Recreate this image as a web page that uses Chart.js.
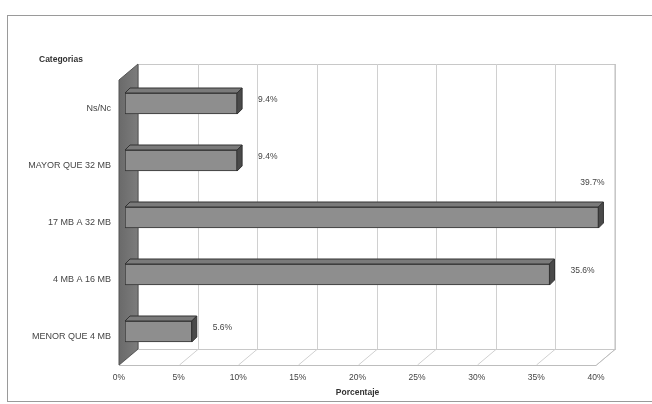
<!DOCTYPE html>
<html>
<head>
<meta charset="utf-8">
<script src="https://cdn.jsdelivr.net/npm/chart.js@4.4.1/dist/chart.umd.min.js"></script>
<style>
  html, body { margin: 0; padding: 0; background: #fff; }
  #wrap { width: 652px; height: 404px; }
</style>
</head>
<body>
<div id="wrap"><canvas id="grafico" width="652" height="404"></canvas></div>
<script>
// datos del grafico
var categorias = ['Ns/Nc', 'MAYOR QUE 32 MB', '17 MB A 32 MB', '4 MB A 16 MB', 'MENOR QUE 4 MB'];
var porcentajes = [9.4, 9.4, 39.7, 35.6, 5.6];
var etiquetas = ['9.4%', '9.4%', '39.7%', '35.6%', '5.6%'];
var ejeMin = 0, ejeMax = 40, paso = 5;

// profundidad del efecto 3d
var fondoX = 19, fondoY = 16;   // pared del fondo
var barraX = 6, barraY = 5;     // posicion de la barra dentro de la caja
var grosor = 5;                 // profundidad de cada barra

var fuente = "'Liberation Sans', Arial, sans-serif";

var caja3d = {
  id: 'caja3d',
  beforeDraw: function(chart) {
    var ctx = chart.ctx;
    ctx.save();
    ctx.strokeStyle = '#9a9a9a';
    ctx.lineWidth = 1;
    ctx.strokeRect(7.5, 15.5, 700, 386);
    ctx.fillStyle = '#333';
    ctx.font = 'bold 8.5px ' + fuente;
    ctx.textBaseline = 'middle';
    ctx.fillText('Categorias', 39, 60);
    ctx.restore();
  },
  beforeDatasetsDraw: function(chart) {
    var ctx = chart.ctx;
    var a = chart.chartArea;
    var x = chart.scales.x;
    ctx.save();
    ctx.lineWidth = 1;
    // pared del fondo
    ctx.fillStyle = '#fff';
    ctx.strokeStyle = '#c8c8c8';
    ctx.fillRect(a.left + fondoX, a.top - fondoY, a.right - a.left, a.bottom - a.top);
    ctx.strokeRect(a.left + fondoX + 0.5, a.top - fondoY + 0.5, a.right - a.left, a.bottom - a.top);
    // lineas de division en el fondo y en el piso
    for (var v = ejeMin; v <= ejeMax; v += paso) {
      var px = Math.round(x.getPixelForValue(v)) + 0.5;
      ctx.strokeStyle = '#d0d0d0';
      ctx.beginPath();
      ctx.moveTo(px + fondoX, a.top - fondoY);
      ctx.lineTo(px + fondoX, a.bottom - fondoY);
      ctx.lineTo(px, a.bottom);
      ctx.stroke();
    }
    // piso
    ctx.strokeStyle = '#bdbdbd';
    ctx.beginPath();
    ctx.moveTo(a.left, a.bottom + 0.5);
    ctx.lineTo(a.right, a.bottom + 0.5);
    ctx.lineTo(a.right + fondoX, a.bottom - fondoY + 0.5);
    ctx.lineTo(a.right + fondoX, a.top - fondoY);
    ctx.stroke();
    // pared izquierda
    var g = ctx.createLinearGradient(a.left, 0, a.left + fondoX, 0);
    g.addColorStop(0, '#6a6a6a');
    g.addColorStop(1, '#7c7c7c');
    ctx.fillStyle = g;
    ctx.beginPath();
    ctx.moveTo(a.left, a.top);
    ctx.lineTo(a.left + fondoX, a.top - fondoY);
    ctx.lineTo(a.left + fondoX, a.bottom - fondoY);
    ctx.lineTo(a.left, a.bottom);
    ctx.closePath();
    ctx.fill();
    ctx.strokeStyle = '#555';
    ctx.stroke();
    ctx.restore();
  },
  beforeDatasetDraw: function(chart) {
    chart.ctx.save();
    chart.ctx.translate(barraX, -barraY);
  },
  afterDatasetDraw: function(chart, args) {
    var ctx = chart.ctx;
    args.meta.data.forEach(function(bar) {
      var x0 = bar.base, x1 = bar.x;
      var y0 = bar.y - bar.height / 2, y1 = bar.y + bar.height / 2;
      ctx.lineWidth = 1;
      ctx.strokeStyle = '#333';
      // cara superior
      ctx.fillStyle = '#7a7a7a';
      ctx.beginPath();
      ctx.moveTo(x0, y0);
      ctx.lineTo(x0 + grosor, y0 - grosor);
      ctx.lineTo(x1 + grosor, y0 - grosor);
      ctx.lineTo(x1, y0);
      ctx.closePath();
      ctx.fill();
      ctx.stroke();
      // cara lateral
      ctx.fillStyle = '#4a4a4a';
      ctx.beginPath();
      ctx.moveTo(x1, y0);
      ctx.lineTo(x1 + grosor, y0 - grosor);
      ctx.lineTo(x1 + grosor, y1 - grosor);
      ctx.lineTo(x1, y1);
      ctx.closePath();
      ctx.fill();
      ctx.stroke();
    });
    ctx.restore();
  },
  afterDatasetsDraw: function(chart) {
    var ctx = chart.ctx;
    var a = chart.chartArea;
    ctx.save();
    ctx.font = '8.5px ' + fuente;
    ctx.fillStyle = '#444';
    ctx.textBaseline = 'middle';
    chart.getDatasetMeta(0).data.forEach(function(bar, i) {
      var t = etiquetas[i];
      var w = ctx.measureText(t).width;
      var lx = bar.x + 27, ly = bar.y - 9;
      if (lx + w > a.right + fondoX) {
        // no entra a la derecha: va encima del extremo
        lx = bar.x - w / 2;
        ly = bar.y - 40;
      }
      ctx.fillText(t, lx, ly);
    });
    ctx.restore();
  }
};

new Chart('grafico', {
  type: 'bar',
  data: {
    labels: categorias,
    datasets: [{
      data: porcentajes,
      backgroundColor: '#8e8e8e',
      borderColor: '#333',
      borderWidth: 1,
      borderSkipped: false,
      barThickness: 21
    }]
  },
  options: {
    indexAxis: 'y',
    responsive: false,
    animation: false,
    layout: { padding: { left: 0, top: 80, right: 56, bottom: 0 } },
    plugins: { legend: { display: false }, tooltip: { enabled: false } },
    scales: {
      x: {
        min: ejeMin,
        max: ejeMax,
        ticks: {
          stepSize: paso,
          padding: 8,
          color: '#444',
          font: { family: fuente, size: 8.5 },
          callback: function(v) { return v + '%'; }
        },
        grid: { display: false, drawTicks: false },
        border: { display: false },
        title: {
          display: true,
          text: 'Porcentaje',
          color: '#333',
          font: { family: fuente, size: 8.5, weight: 'bold' },
          padding: { top: 2, bottom: 6 }
        },
        afterFit: function(s) { s.height = 39; }
      },
      y: {
        ticks: {
          padding: 8,
          color: '#444',
          font: { family: fuente, size: 9 }
        },
        grid: { display: false, drawTicks: false },
        border: { display: false },
        afterFit: function(s) { s.width = 119; }
      }
    }
  },
  plugins: [caja3d]
});
</script>
</body>
</html>
